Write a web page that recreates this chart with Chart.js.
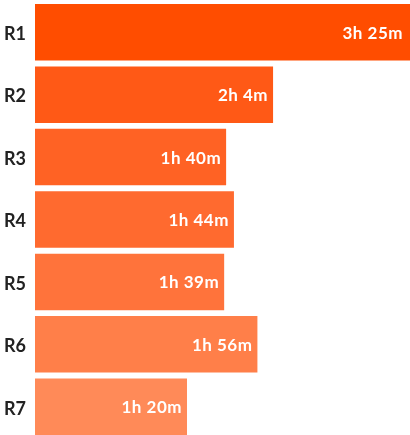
<!DOCTYPE html>
<html>
<head>
<meta charset="utf-8">
<script src="https://cdn.jsdelivr.net/npm/chart.js@4.4.1/dist/chart.umd.min.js"></script>
<style>
  html, body { margin: 0; padding: 0; background: #fff; overflow: hidden; }
  #wrap { position: relative; width: 410px; height: 438px; }
</style>
</head>
<body>
<div id="wrap"><canvas id="barChart"></canvas></div>
<script>
// data (minutes)
const routes = ["R1", "R2", "R3", "R4", "R5", "R6", "R7"];
const minutes = [205, 124, 100, 104, 99, 116, 80];
const valueLabels = ["3h 25m", "2h 4m", "1h 40m", "1h 44m", "1h 39m", "1h 56m", "1h 20m"];
const barColors = ["#ff4d00", "#ff5916", "#ff6224", "#ff6a2f", "#ff733b", "#ff7f49", "#ff8a58"];

// draw the value text inside the right end of each bar
const valueText = {
  id: "valueText",
  afterDatasetsDraw(chart) {
    const ctx = chart.ctx;
    const area = chart.chartArea;
    ctx.save();
    ctx.font = "bold 17px Lato";
    ctx.letterSpacing = "0.5px";
    ctx.fillStyle = "#fff";
    ctx.textAlign = "right";
    ctx.textBaseline = "middle";
    chart.getDatasetMeta(0).data.forEach((bar, i) => {
      let x = Math.min(bar.x, area.right - 2);
      ctx.fillText(valueLabels[i], x - 5, bar.y + 1);
    });
    ctx.restore();
  },
};

new Chart(document.getElementById("barChart"), {
  type: "bar",
  data: {
    labels: routes,
    datasets: [
      {
        data: minutes,
        backgroundColor: barColors,
        barPercentage: 0.905,
        categoryPercentage: 1,
      },
    ],
  },
  options: {
    indexAxis: "y",
    responsive: true,
    maintainAspectRatio: false,
    animation: false,
    layout: { padding: { top: 1, left: 0, right: 0, bottom: 0 } },
    scales: {
      x: {
        display: false,
        min: 2.3,
        max: 194,
      },
      y: {
        grid: { display: false, drawTicks: false },
        border: { display: false },
        ticks: {
          color: "#222",
          padding: 9,
          labelOffset: 2,
          font: { family: "Lato", weight: "bold", size: 18 },
        },
        afterFit(scale) {
          scale.width = 35;
          scale.paddingTop = 0;
          scale.paddingBottom = 0;
        },
      },
    },
    plugins: {
      legend: { display: false },
      tooltip: { enabled: false },
    },
  },
  plugins: [valueText],
});
</script>
</body>
</html>
